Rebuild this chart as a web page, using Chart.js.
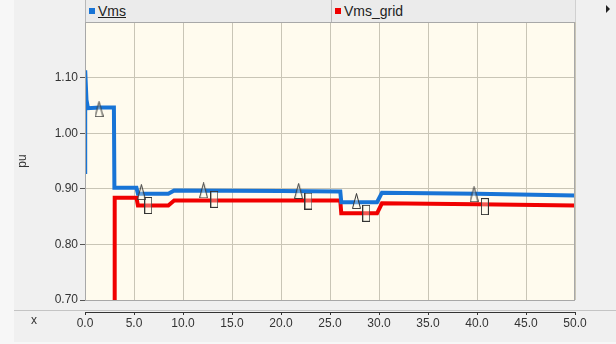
<!DOCTYPE html>
<html>
<head>
<meta charset="utf-8">
<script src="https://cdn.jsdelivr.net/npm/chart.js@4"></script>
<style>
  body { margin: 0; background: #f7f7f7; font-family: "Liberation Sans", Arial, sans-serif; }
  #wrap { position: relative; width: 616px; height: 344px; overflow: hidden; }
  #panel { position: absolute; left: 14px; top: 0; width: 602px; height: 342px; background: #f0f0f0; }
  #sep { position: absolute; left: 14px; top: 310px; width: 602px; height: 1px; background: #c4c4c4; }
  #rside { position: absolute; left: 575px; top: 0; width: 1px; height: 300px; background: #d0d0d0; }
  #lg { position: absolute; left: 85px; top: 0; width: 490px; height: 22px; background: #ebebeb; border-left: 1px solid #b8b8b8; box-sizing: border-box; }
  .cell { position: absolute; top: 0; height: 22px; font-size: 14px; color: #222; line-height: 22px; }
  .cell i { display: inline-block; width: 6px; height: 6px; margin: 0 3px 2px 3px; vertical-align: middle; }
  #div2 { position: absolute; left: 245px; top: 0; width: 1px; height: 22px; background: #b8b8b8; }
  #xlab { position: absolute; left: 31px; top: 313px; font-size: 12px; color: #333; }
  #arr { position: absolute; left: 606px; top: 5px; width: 0; height: 0; border-top: 4px solid transparent; border-bottom: 4px solid transparent; border-left: 4px solid #222; }
  canvas { position: absolute; left: 0; top: 0; }
</style>
</head>
<body>
<div id="wrap">
  <div id="panel"></div>
  <div id="sep"></div>
  <div id="rside"></div>
  <canvas id="c" width="616" height="344"></canvas>
  <div id="lg">
    <div class="cell" style="left:0"><i style="background:#1874d6"></i><u>Vms</u></div>
    <div id="div2"></div>
    <div class="cell" style="left:246px"><i style="background:#f00000"></i>Vms_grid</div>
  </div>
  <div id="xlab">x</div>
  <div id="arr"></div>
</div>
<script>
// time (s) and values (pu)
const vmsT = [0, 0.004, 0.02, 0.15, 0.3, 1.5, 2.95, 3.0, 5.25, 5.4, 8.5, 9.1, 20, 26.05, 26.15, 29.8, 30.3, 40, 50];
const vmsV = [0.60, 0.93, 1.113, 1.06, 1.045, 1.046, 1.046, 0.902, 0.902, 0.891, 0.891, 0.897, 0.896, 0.895, 0.876, 0.876, 0.893, 0.891, 0.888];

const gridT = [2.99, 3.03, 5.25, 5.4, 8.5, 9.1, 20, 26.05, 26.15, 29.8, 30.3, 40, 50];
const gridV = [0.60, 0.884, 0.884, 0.870, 0.870, 0.879, 0.879, 0.879, 0.856, 0.856, 0.874, 0.872, 0.870];

// marker positions (triangles on Vms, boxes on Vms_grid)
const vmsMarkT = [1.43, 5.75, 12.1, 21.8, 27.7, 39.7];
const vmsMarkV = [1.043, 0.894, 0.897, 0.896, 0.878, 0.890];
const gridMarkT = [6.46, 13.2, 22.8, 28.7, 40.8];
const gridMarkV = [0.870, 0.881, 0.878, 0.856, 0.868];

const xTicks = [0, 5, 10, 15, 20, 25, 30, 35, 40, 45, 50];
const yTicks = [0.70, 0.80, 0.90, 1.00, 1.10];

const pts = (t, v) => t.map((x, i) => ({ x: x, y: v[i] }));

function triMarker() {
  const c = document.createElement('canvas');
  c.width = 9; c.height = 16;
  const g = c.getContext('2d');
  g.beginPath();
  g.moveTo(4.5, 0.5); g.lineTo(8.5, 15.5); g.lineTo(0.5, 15.5); g.closePath();
  g.fillStyle = 'rgba(255,251,236,0.35)'; g.fill();
  g.strokeStyle = '#333'; g.lineWidth = 1; g.stroke();
  return c;
}
function boxMarker() {
  const c = document.createElement('canvas');
  c.width = 8; c.height = 17;
  const g = c.getContext('2d');
  g.fillStyle = 'rgba(255,251,236,0.35)'; g.fillRect(0.5, 0.5, 7, 16);
  g.strokeStyle = '#333'; g.lineWidth = 1; g.strokeRect(0.5, 0.5, 7, 16);
  return c;
}

const plotBg = {
  id: 'plotBg',
  beforeDraw(chart) {
    const a = chart.chartArea, ctx = chart.ctx;
    ctx.save();
    ctx.fillStyle = '#fffbee';
    ctx.fillRect(a.left, a.top, a.right - a.left, a.bottom - a.top);
    ctx.restore();
  },
  afterDraw(chart) {
    const a = chart.chartArea, ctx = chart.ctx;
    ctx.save();
    ctx.strokeStyle = '#a8a8a8';
    ctx.lineWidth = 1;
    ctx.strokeRect(a.left + 0.5, a.top + 0.5, a.right - a.left - 1, a.bottom - a.top);
    ctx.restore();
  }
};

const tickFont = { family: 'Liberation Sans', size: 12 };

new Chart(document.getElementById('c'), {
  type: 'line',
  data: {
    datasets: [
      { data: pts(vmsMarkT, vmsMarkV), showLine: false, pointStyle: triMarker(), pointRadius: 5, clip: false },
      { data: pts(gridMarkT, gridMarkV), showLine: false, pointStyle: boxMarker(), pointRadius: 5, clip: false },
      {
        label: 'Vms', data: pts(vmsT, vmsV), borderColor: '#1874d6', borderWidth: 4, pointRadius: 0, tension: 0, clip: 0,
        segment: {
          borderColor: c => c.p0DataIndex === 0 ? '#1c3f78' : undefined,
          borderWidth: c => c.p0DataIndex === 0 ? 1.5 : undefined
        }
      },
      { label: 'Vms_grid', data: pts(gridT, gridV), borderColor: '#f00000', borderWidth: 4, pointRadius: 0, tension: 0, clip: 0 }
    ]
  },
  options: {
    responsive: false,
    animation: false,
    layout: { padding: { top: 22, right: 41, left: 0, bottom: 0 } },
    plugins: { legend: { display: false }, tooltip: { enabled: false } },
    scales: {
      x: {
        type: 'linear', min: 0, max: 50, position: 'bottom', weight: 0,
        afterBuildTicks: s => { s.ticks = xTicks.map(v => ({ value: v })); },
        ticks: { display: false },
        grid: { color: '#c9c5b6', drawTicks: false },
        border: { display: false },
        afterFit: s => { s.height = 12; }
      },
      x2: {
        type: 'linear', axis: 'x', min: 0, max: 50, position: 'bottom', weight: 1,
        afterBuildTicks: s => { s.ticks = xTicks.map(v => ({ value: v })); },
        ticks: { font: tickFont, color: '#333', padding: 1, maxRotation: 0, callback: v => v.toFixed(1) },
        grid: { drawOnChartArea: false, tickLength: 3, tickColor: '#333' },
        border: { display: true, color: '#333' },
        afterFit: s => { s.height = 32; }
      },
      y: {
        type: 'linear', min: 0.70, max: 1.20,
        afterBuildTicks: s => { s.ticks = yTicks.map(v => ({ value: v })); },
        ticks: { font: tickFont, color: '#333', padding: 2, callback: v => v.toFixed(2) },
        grid: { color: '#c9c5b6', tickLength: 5, tickColor: '#555' },
        border: { display: false },
        title: { display: true, text: 'pu', font: tickFont, color: '#333', padding: { top: 15, bottom: 0 } },
        afterFit: s => { s.width = 85; }
      }
    }
  },
  plugins: [plotBg]
});
</script>
</body>
</html>
